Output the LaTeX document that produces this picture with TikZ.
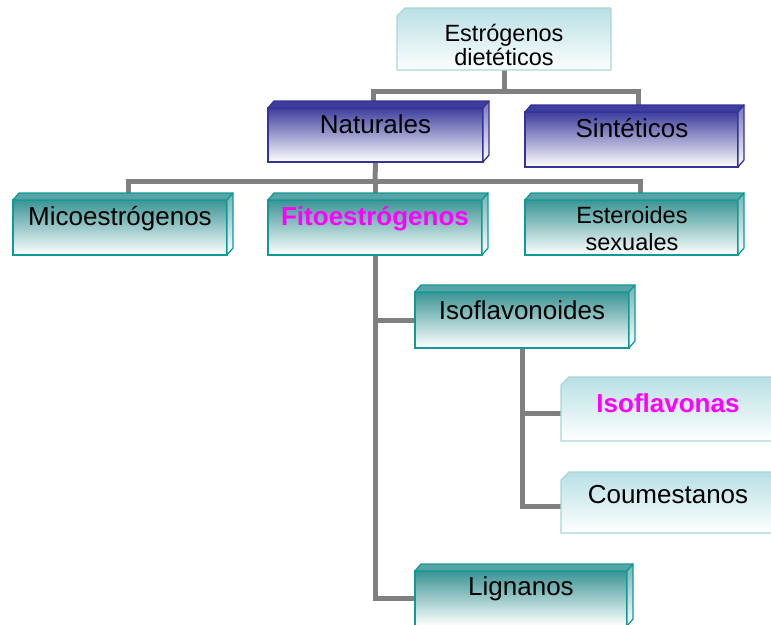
\documentclass[tikz,border=0pt]{standalone}
\usepackage{fontspec}
\setmainfont{Liberation Sans}
\usetikzlibrary{calc}
\definecolor{tealb}{RGB}{17,153,153}
\definecolor{tealdk}{RGB}{58,148,148}
\definecolor{blueb}{RGB}{51,51,153}
\definecolor{bluedk}{RGB}{62,62,158}
\definecolor{cyantop}{RGB}{184,224,228}
\definecolor{cyanb}{RGB}{168,214,218}
\definecolor{connc}{RGB}{128,128,128}
\definecolor{magtext}{RGB}{255,0,255}
\pgfdeclarelayer{bg}
\pgfsetlayers{bg,main}
\tikzset{
  conn/.style={draw=connc, line width=5pt},
  face/.style={inner sep=0pt, outer sep=0pt, anchor=north west, line width=1.3pt},
  tealface/.style={face, draw=tealb, top color=tealdk, middle color=tealdk!40!white, bottom color=white},
  tealtop/.style={draw=tealb, line width=1.3pt, line join=round, fill=tealdk!85!white},
  tealside/.style={draw=tealb, line width=1.3pt, line join=round, top color=tealdk!70!white, bottom color=white},
  blueface/.style={face, draw=blueb, top color=bluedk, middle color=bluedk!40!white, bottom color=white},
  bluetop/.style={draw=blueb, line width=1.3pt, line join=round, fill=bluedk},
  blueside/.style={draw=blueb, line width=1.3pt, line join=round, top color=bluedk!70!white, bottom color=white},
  lightnode/.style={inner sep=0pt, outer sep=0pt, anchor=north west},
  lightface/.style={draw=cyanb, line width=1.3pt, line join=round, top color=cyantop, bottom color=white},
  lbl/.style={anchor=base, inner sep=0pt, font=\fontsize{26}{30}\selectfont},
  lbls/.style={anchor=base, inner sep=0pt, font=\fontsize{23.5}{27}\selectfont},
  hl/.style={text=magtext, font=\fontsize{26}{30}\selectfont\bfseries}
}
\newcommand{\cubebox}[6]{%
  \node[#6face, minimum width={(#4-#2)*1pt}, minimum height={(#5-#3)*1pt}] (#1) at (#2,#3) {};
  \path[#6top] (#1.north west) -- ++(6,-7) -- ($(#1.north east)+(6,-7)$) -- (#1.north east) -- cycle;
  \path[#6side] (#1.north east) -- ++(6,-7) -- ($(#1.south east)+(6,-7)$) -- (#1.south east) -- cycle;
}
\newcommand{\lightbox}[5]{% name, left, top, width, height
  \node[lightnode, minimum width={#4*1pt}, minimum height={#5*1pt}] (#1) at (#2,#3) {};
  \path[lightface] ($(#1.north west)+(0,8)$) -- ($(#1.north west)+(8,0)$) -- (#1.north east)
    -- (#1.south east) -- (#1.south west) -- cycle;
}
\begin{document}
\begin{tikzpicture}[x=1pt, y=-1pt]
\useasboundingbox (0,0) rectangle (771,624);

% boxes
\lightbox{est}{397}{8}{214}{62}
\cubebox{nat}{268}{108}{483}{162}{blue}
\cubebox{sin}{525}{112}{738}{167}{blue}
\cubebox{mico}{13}{200}{227}{255}{teal}
\cubebox{fito}{268}{200}{482}{255}{teal}
\cubebox{ester}{525}{200}{738}{255}{teal}
\cubebox{isoid}{415}{292}{629}{348}{teal}
\lightbox{isona}{561}{377}{216}{64}
\lightbox{coum}{561}{472}{216}{61}
\cubebox{lign}{415}{571}{627}{626}{teal}

% connectors
\begin{pgfonlayer}{bg}
\coordinate (j0) at (504,91);
\coordinate (j1) at (375,181);
\draw[conn] (est.south) -- (j0);
\draw[conn] ([xshift=-2.5pt]nat.north) |- ([xshift=6.5pt]sin.north |- j0) -- ([xshift=6.5pt]sin.north);
\draw[conn] (nat.south) -- (j1);
\draw[conn] ([xshift=8pt]mico.north) |- ([xshift=8.5pt]ester.north |- j1) -- ([xshift=8.5pt]ester.north);
\draw[conn] (j1) -- (fito.north);
\draw[conn] (fito.south) |- (lign.west);
\draw[conn] (fito.south |- isoid.west) -- (isoid.west);
\coordinate (bi) at ([yshift=-4pt]isona.west);
\coordinate (bc) at ([yshift=-3.5pt]coum.west);
\draw[conn] (isoid.south) |- (bc);
\draw[conn] (bi -| isoid.south) -- (bi);
\end{pgfonlayer}

% labels
\node[lbls] (est-t1) at (504,41) {Estrógenos};
\node[lbls] (est-t2) at (504,65) {dietéticos};
\node[lbl] (nat-t) at (375.5,133) {Naturales};
\node[lbl] (sin-t) at (632,137) {Sintéticos};
\node[lbl] (mico-t) at (120,225) {Micoestrógenos};
\node[lbl, hl] (fito-t) at (375,225) {Fitoestrógenos};
\node[lbls] (ester-t1) at (632,223) {Esteroides};
\node[lbls] (ester-t2) at (632,250) {sexuales};
\node[lbl] (isoid-t) at (522,319) {Isoflavonoides};
\node[lbl, hl] (isona-t) at (668,412) {Isoflavonas};
\node[lbl] (coum-t) at (668,503) {Coumestanos};
\node[lbl] (lign-t) at (521,595) {Lignanos};
\end{tikzpicture}
\end{document}
